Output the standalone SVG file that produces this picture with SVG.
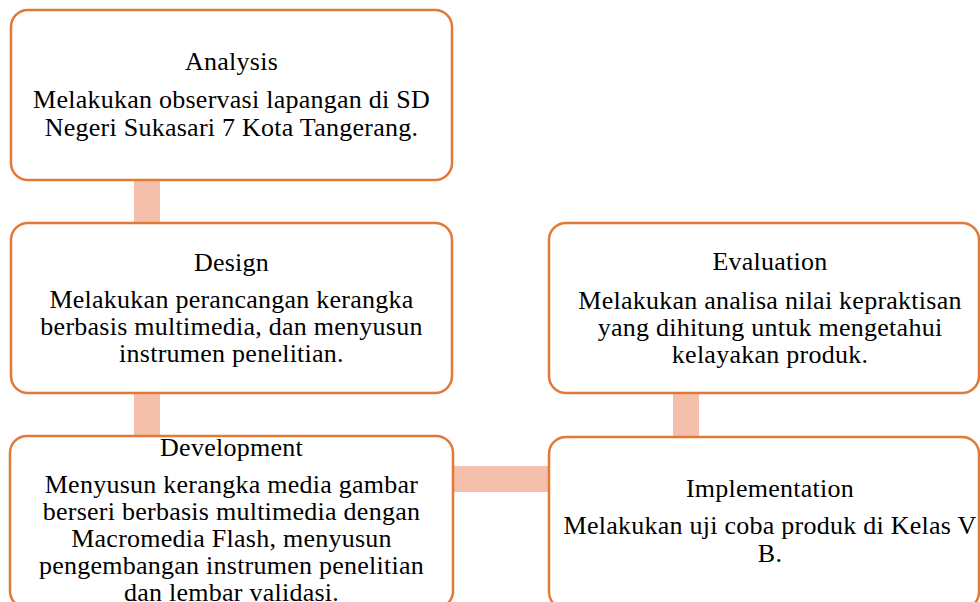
<svg xmlns="http://www.w3.org/2000/svg" width="980" height="602" viewBox="0 0 980 602">
<style>
.box{fill:#ffffff;stroke:#E07A36;stroke-width:2.5}
.conn{fill:#F5C0AB}
.t{font-family:"Liberation Serif","Tinos","DejaVu Serif","Noto Serif",serif;font-size:26px;letter-spacing:0.25px;fill:#000000;text-anchor:middle}
</style>
<rect width="980" height="602" fill="#ffffff"/>
<g id="connectors">
<rect class="conn" x="134" y="178" width="26" height="47"/>
<rect class="conn" x="134" y="391" width="26" height="47"/>
<rect class="conn" x="673" y="391" width="26" height="48"/>
<rect class="conn" x="451" y="466" width="100" height="26"/>
</g>
<g id="analysis">
<rect class="box" x="11" y="10" width="441" height="170" rx="17"/>
<text class="t" x="231.5" y="70">Analysis</text>
<text class="t" x="231.5" y="108">Melakukan observasi lapangan di SD</text>
<text class="t" x="231.5" y="136">Negeri Sukasari 7 Kota Tangerang.</text>
</g>
<g id="design">
<rect class="box" x="11" y="223" width="441" height="170" rx="17"/>
<text class="t" x="231.5" y="271">Design</text>
<text class="t" x="231.5" y="308">Melakukan perancangan kerangka</text>
<text class="t" x="231.5" y="335">berbasis multimedia, dan menyusun</text>
<text class="t" x="231.5" y="362">instrumen penelitian.</text>
</g>
<g id="development">
<rect class="box" x="10" y="436" width="443" height="172" rx="17"/>
<text class="t" x="231.5" y="456">Development</text>
<text class="t" x="231.5" y="493">Menyusun kerangka media gambar</text>
<text class="t" x="231.5" y="520">berseri berbasis multimedia dengan</text>
<text class="t" x="231.5" y="547">Macromedia Flash, menyusun</text>
<text class="t" x="231.5" y="574">pengembangan instrumen penelitian</text>
<text class="t" x="231.5" y="601">dan lembar validasi.</text>
</g>
<g id="evaluation">
<rect class="box" x="549" y="223" width="430" height="170" rx="17"/>
<text class="t" x="770" y="270">Evaluation</text>
<text class="t" x="770" y="309">Melakukan analisa nilai kepraktisan</text>
<text class="t" x="770" y="336">yang dihitung untuk mengetahui</text>
<text class="t" x="770" y="363">kelayakan produk.</text>
</g>
<g id="implementation">
<rect class="box" x="549" y="437" width="430" height="172" rx="17"/>
<text class="t" x="770" y="497">Implementation</text>
<text class="t" x="770" y="534">Melakukan uji coba produk di Kelas V</text>
<text class="t" x="770" y="562">B.</text>
</g>
</svg>
